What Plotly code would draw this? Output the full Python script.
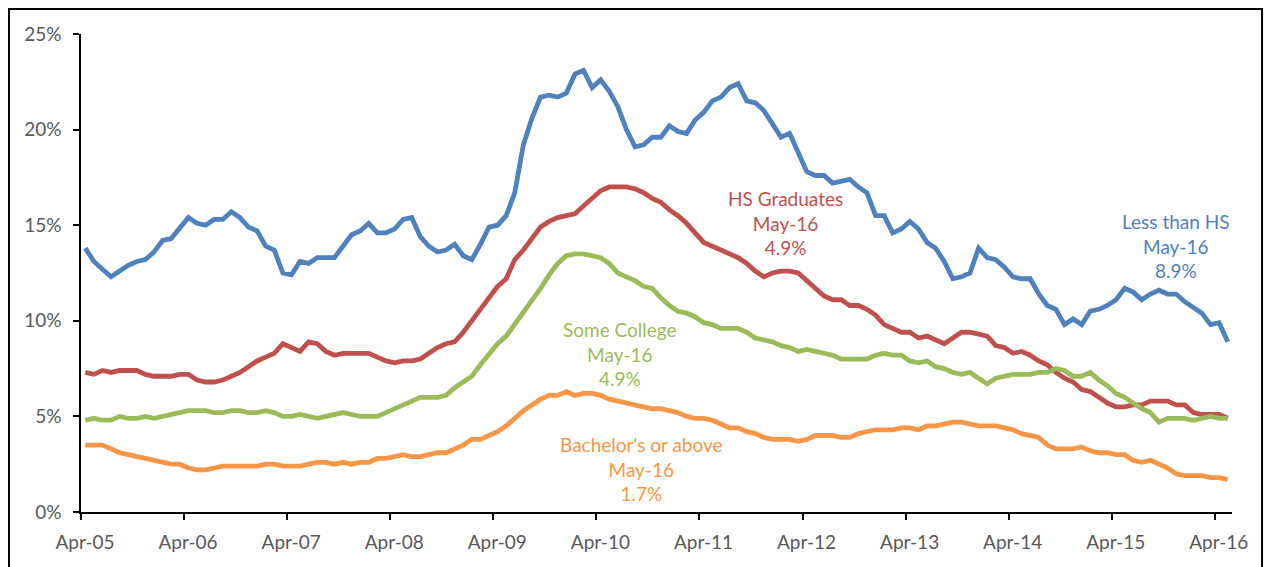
import plotly.graph_objects as go

MONTH_NAMES = ["Jan", "Feb", "Mar", "Apr", "May", "Jun", "Jul", "Aug", "Sep", "Oct", "Nov", "Dec"]
# Monthly categories Apr-05 .. May-16
months = []
for yr in range(2005, 2017):
    for m in range(12):
        if (yr == 2005 and m < 3) or (yr == 2016 and m > 4):
            continue
        months.append(f"{MONTH_NAMES[m]}-{yr % 100:02d}")

less_than_hs = [
    13.8, 13.1, 12.7, 12.3, 12.6, 12.9, 13.1, 13.2, 13.6, 14.2, 14.3, 14.9,
    15.4, 15.1, 15.0, 15.3, 15.3, 15.7, 15.4, 14.9, 14.7, 13.9, 13.7, 12.5,
    12.4, 13.1, 13.0, 13.3, 13.3, 13.3, 13.9, 14.5, 14.7, 15.1, 14.6, 14.6,
    14.8, 15.3, 15.4, 14.4, 13.9, 13.6, 13.7, 14.0, 13.4, 13.2, 14.0, 14.9,
    15.0, 15.5, 16.7, 19.2, 20.6, 21.7, 21.8, 21.7, 21.9, 22.9, 23.1, 22.2,
    22.6, 22.0, 21.2, 20.0, 19.1, 19.2, 19.6, 19.6, 20.2, 19.9, 19.8, 20.5,
    20.9, 21.5, 21.7, 22.2, 22.4, 21.5, 21.4, 21.0, 20.3, 19.6, 19.8, 18.8,
    17.8, 17.6, 17.6, 17.2, 17.3, 17.4, 17.0, 16.7, 15.5, 15.5, 14.6, 14.8,
    15.2, 14.8, 14.1, 13.8, 13.1, 12.2, 12.3, 12.5, 13.8, 13.3, 13.2, 12.8,
    12.3, 12.2, 12.2, 11.4, 10.8, 10.6, 9.8, 10.1, 9.8, 10.5, 10.6, 10.8,
    11.1, 11.7, 11.5, 11.1, 11.4, 11.6, 11.4, 11.4, 11.0, 10.7, 10.4, 9.8,
    9.9, 8.9,
]

hs_graduates = [
    7.3, 7.2, 7.4, 7.3, 7.4, 7.4, 7.4, 7.2, 7.1, 7.1, 7.1, 7.2,
    7.2, 6.9, 6.8, 6.8, 6.9, 7.1, 7.3, 7.6, 7.9, 8.1, 8.3, 8.8,
    8.6, 8.4, 8.9, 8.8, 8.4, 8.2, 8.3, 8.3, 8.3, 8.3, 8.1, 7.9,
    7.8, 7.9, 7.9, 8.0, 8.3, 8.6, 8.8, 8.9, 9.4, 10.0, 10.5, 11.2,
    11.8, 12.2, 13.2, 13.7, 14.3, 14.9, 15.2, 15.4, 15.5, 15.6, 16.0, 16.4,
    16.8, 17.0, 17.0, 17.0, 16.9, 16.7, 16.4, 16.2, 15.8, 15.5, 15.1, 14.6,
    14.1, 13.9, 13.7, 13.5, 13.3, 13.0, 12.6, 12.3, 12.5, 12.6, 12.6, 12.5,
    12.1, 11.7, 11.3, 11.1, 11.1, 10.8, 10.8, 10.6, 10.3, 9.8, 9.6, 9.4,
    9.4, 9.1, 9.2, 9.0, 8.8, 9.1, 9.4, 9.4, 9.3, 9.2, 8.7, 8.6,
    8.3, 8.4, 8.2, 7.9, 7.7, 7.3, 7.0, 6.8, 6.4, 6.3, 6.0, 5.7,
    5.5, 5.5, 5.6, 5.6, 5.8, 5.8, 5.8, 5.6, 5.6, 5.2, 5.1, 5.1,
    5.1, 4.9,
]

some_college = [
    4.8, 4.9, 4.8, 4.8, 5.0, 4.9, 4.9, 5.0, 4.9, 5.0, 5.1, 5.2,
    5.3, 5.3, 5.3, 5.2, 5.2, 5.3, 5.3, 5.2, 5.2, 5.3, 5.2, 5.0,
    5.0, 5.1, 5.0, 4.9, 5.0, 5.1, 5.2, 5.1, 5.0, 5.0, 5.0, 5.2,
    5.4, 5.6, 5.8, 6.0, 6.0, 6.0, 6.1, 6.5, 6.8, 7.1, 7.7, 8.3,
    8.8, 9.2, 9.8, 10.4, 11.0, 11.7, 12.4, 13.0, 13.4, 13.5, 13.5, 13.4,
    13.3, 13.0, 12.5, 12.3, 12.1, 11.8, 11.7, 11.2, 10.8, 10.5, 10.4, 10.2,
    9.9, 9.8, 9.6, 9.6, 9.6, 9.4, 9.1, 9.0, 8.9, 8.7, 8.6, 8.4,
    8.5, 8.4, 8.3, 8.2, 8.0, 8.0, 8.0, 8.0, 8.2, 8.3, 8.2, 8.2,
    7.9, 7.8, 7.9, 7.6, 7.5, 7.3, 7.2, 7.3, 7.0, 6.7, 7.0, 7.1,
    7.2, 7.2, 7.2, 7.3, 7.3, 7.5, 7.4, 7.1, 7.1, 7.3, 6.9, 6.6,
    6.2, 6.0, 5.7, 5.4, 5.2, 4.7, 4.9, 4.9, 4.9, 4.8, 4.9, 5.0,
    4.9, 4.9,
]

bachelors = [
    3.5, 3.5, 3.5, 3.3, 3.1, 3.0, 2.9, 2.8, 2.7, 2.6, 2.5, 2.5,
    2.3, 2.2, 2.2, 2.3, 2.4, 2.4, 2.4, 2.4, 2.4, 2.5, 2.5, 2.4,
    2.4, 2.4, 2.5, 2.6, 2.6, 2.5, 2.6, 2.5, 2.6, 2.6, 2.8, 2.8,
    2.9, 3.0, 2.9, 2.9, 3.0, 3.1, 3.1, 3.3, 3.5, 3.8, 3.8, 4.0,
    4.2, 4.5, 4.9, 5.3, 5.6, 5.9, 6.1, 6.1, 6.3, 6.1, 6.2, 6.2,
    6.1, 5.9, 5.8, 5.7, 5.6, 5.5, 5.4, 5.4, 5.3, 5.2, 5.0, 4.9,
    4.9, 4.8, 4.6, 4.4, 4.4, 4.2, 4.1, 3.9, 3.8, 3.8, 3.8, 3.7,
    3.8, 4.0, 4.0, 4.0, 3.9, 3.9, 4.1, 4.2, 4.3, 4.3, 4.3, 4.4,
    4.4, 4.3, 4.5, 4.5, 4.6, 4.7, 4.7, 4.6, 4.5, 4.5, 4.5, 4.4,
    4.3, 4.1, 4.0, 3.9, 3.5, 3.3, 3.3, 3.3, 3.4, 3.2, 3.1, 3.1,
    3.0, 3.0, 2.7, 2.6, 2.7, 2.5, 2.3, 2.0, 1.9, 1.9, 1.9, 1.8,
    1.8, 1.7,
]

tick_labels = ["Apr-05", "Apr-06", "Apr-07", "Apr-08", "Apr-09", "Apr-10",
               "Apr-11", "Apr-12", "Apr-13", "Apr-14", "Apr-15", "Apr-16"]
y_ticks = [0, 5, 10, 15, 20, 25]
y_tick_text = ["0%", "5%", "10%", "15%", "20%", "25%"]

series = [
    ("Less than HS", less_than_hs, "#4F81BD"),
    ("HS Graduates", hs_graduates, "#C0504D"),
    ("Some College", some_college, "#9BBB59"),
    ("Bachelor's or above", bachelors, "#F79646"),
]

label_pos = {
    "Less than HS": (127.0, 13.9),
    "HS Graduates": (81.5, 15.1),
    "Some College": (62.2, 8.25),
    "Bachelor's or above": (64.8, 2.25),
}

FONT = "Lato"
TICK_COLOR = "#595959"

idx = list(range(len(months)))
fig = go.Figure()
for name, vals, color in series:
    fig.add_trace(go.Scatter(
        x=idx, y=vals, mode="lines", name=name,
        line=dict(color=color, width=4.8),
        customdata=months, hovertemplate="%{customdata}: %{y:.1f}%<extra>" + name + "</extra>",
    ))

annotations = []
for name, vals, color in series:
    lx, ly = label_pos[name]
    last = months[-1]
    annotations.append(dict(
        x=lx, y=ly, xref="x", yref="y", showarrow=False,
        text=f"{name}<br>{last}<br>{vals[-1]:.1f}%",
        font=dict(family=FONT, size=19, color=color),
        align="center", xanchor="center", yanchor="middle",
    ))

tick_idx = [months.index(t) - 0.5 for t in tick_labels]

# the page body adds an 8px offset; margins compensate for it
fig.update_layout(
    width=1280, height=567,
    margin=dict(l=73, r=56, t=26, b=63, autoexpand=False),
    paper_bgcolor="white", plot_bgcolor="white",
    showlegend=False,
    font=dict(family=FONT, size=19, color=TICK_COLOR),
    annotations=annotations,
    xaxis=dict(
        range=[-0.5, len(months) - 0.5],
        tickmode="array", tickvals=tick_idx, ticktext=tick_labels,
        ticks="outside", ticklen=6, tickwidth=1.5, tickcolor="black",
        showline=True, linecolor="black", linewidth=1.5,
        showgrid=False, zeroline=False, automargin=False,
        ticklabelshift=4, ticklabelstandoff=6,
        tickfont=dict(family=FONT, size=19, color=TICK_COLOR),
    ),
    yaxis=dict(
        range=[0, 25], tickmode="array", tickvals=y_ticks, ticktext=y_tick_text,
        ticks="outside", ticklen=6, tickwidth=1.5, tickcolor="black",
        showline=True, linecolor="black", linewidth=1.5,
        showgrid=False, zeroline=False, automargin=False,
        ticklabelstandoff=8,
        tickfont=dict(family=FONT, size=19, color=TICK_COLOR),
    ),
    shapes=[
        dict(type="path", xref="paper", yref="paper",
             path="M -0.0626,-0.2 L -0.0626,1.0523 L 1.0261,1.0523 L 1.0261,-0.2",
             line=dict(color="black", width=2), layer="above"),
    ],
)

fig.write_html("out.html")
